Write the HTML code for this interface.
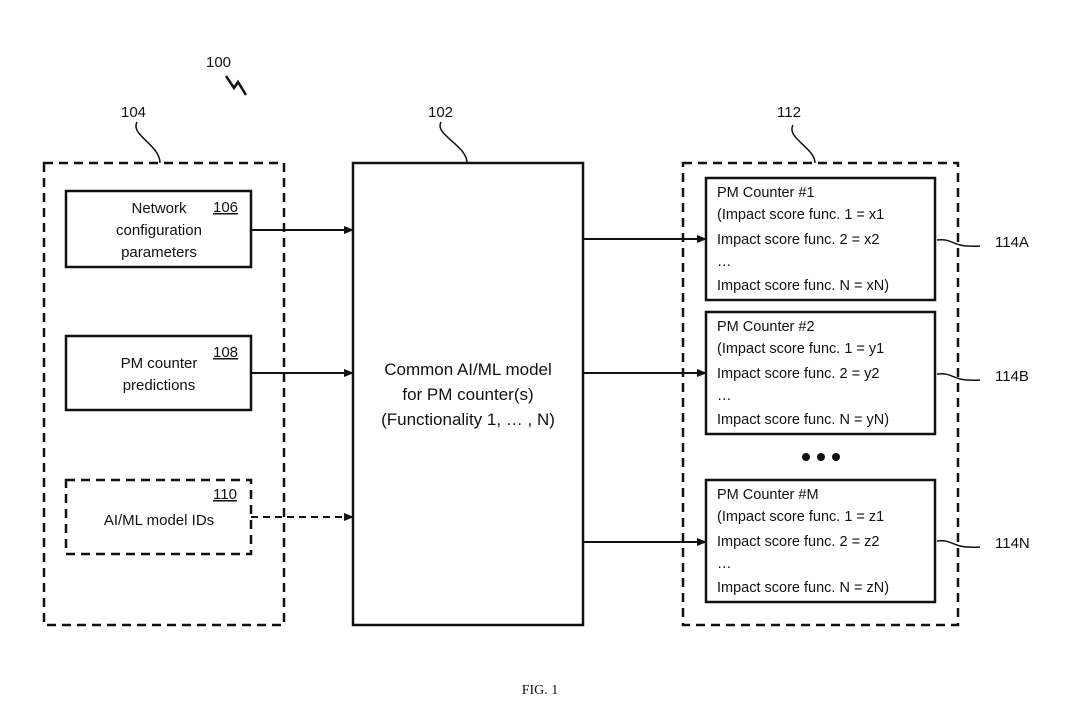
<!DOCTYPE html>
<html><head><style>
body{margin:0;background:#fff}
svg text{font-family:"Liberation Sans",sans-serif;fill:#111}
</style></head><body>
<svg width="1079" height="711" viewBox="0 0 1079 711" xmlns="http://www.w3.org/2000/svg">
<defs><marker id="a" markerWidth="10" markerHeight="8" refX="9" refY="4" orient="auto" markerUnits="userSpaceOnUse"><path d="M0,0 L10,4 L0,8 z" fill="#111"/></marker></defs>
<g fill="none" stroke="#111" stroke-width="2.5">
<rect x="44" y="163" width="240" height="462" stroke-dasharray="9,6"/>
<rect x="683" y="163" width="275" height="462" stroke-dasharray="9,6"/>
<rect x="353" y="163" width="230" height="462"/>
<rect x="66" y="191" width="185" height="76"/>
<rect x="66" y="336" width="185" height="74"/>
<rect x="66" y="480" width="185" height="74" stroke-dasharray="9,6"/>
<rect x="706" y="178" width="229" height="122"/>
<rect x="706" y="312" width="229" height="122"/>
<rect x="706" y="480" width="229" height="122"/>
</g>
<g stroke="#111" stroke-width="2" fill="none">
<line x1="251" y1="230" x2="353" y2="230" marker-end="url(#a)"/>
<line x1="251" y1="373" x2="353" y2="373" marker-end="url(#a)"/>
<line x1="251" y1="517" x2="353" y2="517" stroke-dasharray="7,5" marker-end="url(#a)"/>
<line x1="583" y1="239" x2="706" y2="239" marker-end="url(#a)"/>
<line x1="583" y1="373" x2="706" y2="373" marker-end="url(#a)"/>
<line x1="583" y1="542" x2="706" y2="542" marker-end="url(#a)"/>
<path d="M937,240 C955,238 950,248 980,246" stroke-width="1.5"/>
<path d="M937,374 C955,372 950,382 980,380" stroke-width="1.5"/>
<path d="M937,541 C955,539 950,549 980,547" stroke-width="1.5"/>
<path d="M137,122 C130,135 160,145 160,163" stroke-width="1.5"/>
<path d="M441,122 C434,135 467,145 467,163" stroke-width="1.5"/>
<path d="M793,125 C786,138 815,148 815,163" stroke-width="1.5"/>
<path d="M226,76 L234,88 L238,82 L246,95" stroke-width="2.5"/>
</g>
<circle cx="806" cy="457" r="4" fill="#111"/><circle cx="821" cy="457" r="4" fill="#111"/><circle cx="836" cy="457" r="4" fill="#111"/>
<g font-size="15">
<text x="206" y="67">100</text>
<text x="121" y="117">104</text>
<text x="428" y="117">102</text>
<text x="777" y="117">112</text>
<text x="995" y="247">114A</text>
<text x="995" y="381">114B</text>
<text x="995" y="548">114N</text>
<text x="213" y="212" text-decoration="underline">106</text>
<text x="213" y="357" text-decoration="underline">108</text>
<text x="213" y="499" text-decoration="underline">110</text>
<text x="159" y="213" text-anchor="middle">Network</text>
<text x="159" y="235" text-anchor="middle">configuration</text>
<text x="159" y="257" text-anchor="middle">parameters</text>
<text x="159" y="368" text-anchor="middle">PM counter</text>
<text x="159" y="390" text-anchor="middle">predictions</text>
<text x="159" y="525" text-anchor="middle">AI/ML model IDs</text>
</g>
<g font-size="17" text-anchor="middle">
<text x="468" y="375">Common AI/ML model</text>
<text x="468" y="400">for PM counter(s)</text>
<text x="468" y="425">(Functionality 1, … , N)</text>
</g>
<g font-size="14.5">
<text x="717" y="197">PM Counter #1</text>
<text x="717" y="219">(Impact score func. 1 = x1</text>
<text x="717" y="244">Impact score func. 2 = x2</text>
<text x="717" y="266">…</text>
<text x="717" y="290">Impact score func. N = xN)</text>
<text x="717" y="331">PM Counter #2</text>
<text x="717" y="353">(Impact score func. 1 = y1</text>
<text x="717" y="378">Impact score func. 2 = y2</text>
<text x="717" y="400">…</text>
<text x="717" y="424">Impact score func. N = yN)</text>
<text x="717" y="499">PM Counter #M</text>
<text x="717" y="521">(Impact score func. 1 = z1</text>
<text x="717" y="546">Impact score func. 2 = z2</text>
<text x="717" y="568">…</text>
<text x="717" y="592">Impact score func. N = zN)</text>
</g>
<text x="540" y="694" font-size="14" text-anchor="middle" style="font-family:'Liberation Serif',serif">FIG. 1</text>
</svg>
</body></html>
